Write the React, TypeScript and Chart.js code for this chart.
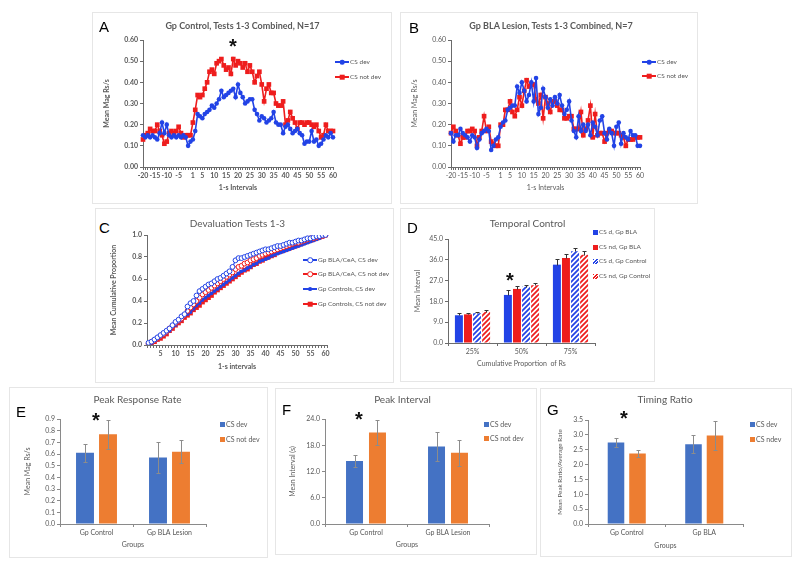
import React, { useEffect, useRef } from 'react';
import { Chart, registerables } from 'chart.js';

Chart.register(...registerables);

const FONT = 'Lato, "Liberation Sans", sans-serif';
const SERIF_LET = '"Liberation Sans", Arial, sans-serif';
const GREY = '#595959';
const AXC = '#6b6b6b';
const AXC2 = '#8a8a8a';
const BLUE = '#2243e6';
const RED = '#ee1d1d';
const EBLUE = '#4472C4';
const EORANGE = '#ED7D31';

Chart.defaults.font.family = FONT;
Chart.defaults.color = GREY;

// ---------- Panel A / B : 1-s intervals ----------
const abCategories = Array.from({ length: 81 }, (_, i) => String(i - 20));
const abTickLabels = ['-20', '-15', '-10', '-5', '1', '5', '10', '15', '20', '25', '30', '35', '40', '45', '50', '55', '60'];

const aCsDev = [
  0.15, 0.14, 0.15, 0.14, 0.15, 0.14, 0.13, 0.16, 0.21, 0.16,
  0.20, 0.15, 0.14, 0.15, 0.14, 0.15, 0.14, 0.15, 0.14, 0.10,
  0.12, 0.13, 0.17, 0.25, 0.24, 0.23, 0.25, 0.26, 0.27, 0.29,
  0.28, 0.30, 0.32, 0.36, 0.33, 0.34, 0.35, 0.36, 0.37, 0.33,
  0.39, 0.35, 0.33, 0.30, 0.31, 0.32, 0.32, 0.27, 0.25, 0.22,
  0.24, 0.23, 0.21, 0.22, 0.23, 0.26, 0.21, 0.20, 0.20, 0.16,
  0.19, 0.20, 0.18, 0.16, 0.17, 0.18, 0.16, 0.15, 0.11, 0.12,
  0.12, 0.17, 0.12, 0.13, 0.10, 0.11, 0.13, 0.15, 0.14, 0.16,
  0.14,
];
const aCsNotDev = [
  0.13, 0.15, 0.16, 0.18, 0.17, 0.17, 0.20, 0.17, 0.15, 0.11,
  0.12, 0.16, 0.17, 0.16, 0.17, 0.19, 0.16, 0.14, 0.15, 0.15,
  0.15, 0.21, 0.27, 0.34, 0.33, 0.34, 0.37, 0.40, 0.45, 0.46,
  0.44, 0.49, 0.50, 0.51, 0.48, 0.46, 0.47, 0.44, 0.51, 0.48,
  0.50, 0.49, 0.47, 0.49, 0.45, 0.48, 0.45, 0.40, 0.43, 0.45,
  0.39, 0.31, 0.37, 0.39, 0.35, 0.35, 0.30, 0.29, 0.29, 0.31,
  0.20, 0.22, 0.26, 0.23, 0.21, 0.18, 0.21, 0.21, 0.20, 0.21,
  0.21, 0.20, 0.19, 0.20, 0.17, 0.14, 0.15, 0.20, 0.17, 0.17,
  0.17,
];
const bCsDev = [
  0.16, 0.12, 0.15, 0.15, 0.18, 0.16, 0.15, 0.14, 0.12, 0.15,
  0.14, 0.09, 0.13, 0.16, 0.17, 0.18, 0.17, 0.08, 0.10, 0.13,
  0.14, 0.19, 0.21, 0.22, 0.27, 0.28, 0.29, 0.29, 0.38, 0.35,
  0.40, 0.36, 0.31, 0.34, 0.40, 0.31, 0.42, 0.25, 0.28, 0.37,
  0.33, 0.28, 0.32, 0.29, 0.33, 0.30, 0.34, 0.29, 0.25, 0.27,
  0.31, 0.22, 0.17, 0.14, 0.24, 0.17, 0.20, 0.17, 0.20, 0.15,
  0.21, 0.19, 0.15, 0.22, 0.24, 0.16, 0.13, 0.18, 0.16, 0.10,
  0.19, 0.21, 0.11, 0.16, 0.14, 0.13, 0.17, 0.15, 0.15, 0.10,
  0.10,
];
const bCsNotDev = [
  0.16, 0.19, 0.17, 0.15, 0.11, 0.14, 0.14, 0.17, 0.17, 0.18,
  0.17, 0.10, 0.14, 0.17, 0.24, 0.17, 0.19, 0.12, 0.11, 0.10,
  0.10, 0.20, 0.20, 0.27, 0.27, 0.31, 0.26, 0.24, 0.27, 0.33,
  0.29, 0.36, 0.41, 0.38, 0.39, 0.39, 0.32, 0.30, 0.34, 0.23,
  0.33, 0.30, 0.26, 0.31, 0.31, 0.29, 0.27, 0.27, 0.23, 0.23,
  0.24, 0.24, 0.18, 0.18, 0.18, 0.26, 0.15, 0.18, 0.22, 0.29,
  0.14, 0.25, 0.15, 0.16, 0.16, 0.12, 0.16, 0.17, 0.17, 0.16,
  0.16, 0.16, 0.15, 0.14, 0.10, 0.13, 0.13, 0.13, 0.14, 0.14,
  0.14,
];

// ---------- Panel C : cumulative proportion ----------
const cCategories = Array.from({ length: 60 }, (_, i) => String(i + 1));
const cTickLabels = ['5', '10', '15', '20', '25', '30', '35', '40', '45', '50', '55', '60'];
const cBlaDev = [
  0.02, 0.03, 0.05, 0.07, 0.09, 0.11, 0.13, 0.15, 0.18, 0.21,
  0.23, 0.26, 0.28, 0.35, 0.38, 0.40, 0.45, 0.49, 0.51, 0.53,
  0.55, 0.56, 0.58, 0.60, 0.61, 0.63, 0.65, 0.67, 0.71, 0.77,
  0.79, 0.79, 0.80, 0.81, 0.82, 0.83, 0.84, 0.85, 0.86, 0.87,
  0.87, 0.88, 0.89, 0.90, 0.90, 0.91, 0.92, 0.93, 0.93, 0.94,
  0.95, 0.95, 0.96, 0.97, 0.97, 0.98, 0.99, 0.99, 1.0, 1.0,
];
const cBlaNotDev = [
  0.01, 0.03, 0.04, 0.06, 0.08, 0.10, 0.12, 0.15, 0.17, 0.20,
  0.22, 0.24, 0.27, 0.31, 0.34, 0.37, 0.40, 0.43, 0.46, 0.48,
  0.50, 0.52, 0.54, 0.56, 0.58, 0.60, 0.62, 0.64, 0.66, 0.69,
  0.71, 0.72, 0.74, 0.75, 0.77, 0.78, 0.79, 0.81, 0.82, 0.83,
  0.84, 0.85, 0.86, 0.87, 0.88, 0.89, 0.90, 0.91, 0.92, 0.93,
  0.93, 0.94, 0.95, 0.96, 0.97, 0.97, 0.98, 0.99, 0.99, 1.0,
];
const cCtlDev = [
  0.01, 0.02, 0.04, 0.05, 0.07, 0.09, 0.11, 0.13, 0.16, 0.18,
  0.21, 0.23, 0.26, 0.28, 0.30, 0.33, 0.36, 0.38, 0.41, 0.43,
  0.45, 0.47, 0.49, 0.51, 0.53, 0.55, 0.57, 0.59, 0.61, 0.63,
  0.65, 0.67, 0.68, 0.70, 0.71, 0.73, 0.74, 0.76, 0.77, 0.78,
  0.79, 0.81, 0.82, 0.83, 0.84, 0.85, 0.86, 0.87, 0.88, 0.89,
  0.90, 0.91, 0.92, 0.93, 0.94, 0.95, 0.96, 0.97, 0.98, 1.0,
];
const cCtlNotDev = [
  0.01, 0.02, 0.03, 0.05, 0.06, 0.08, 0.10, 0.13, 0.15, 0.18,
  0.20, 0.22, 0.25, 0.27, 0.29, 0.32, 0.34, 0.36, 0.39, 0.41,
  0.43, 0.45, 0.48, 0.50, 0.52, 0.54, 0.56, 0.58, 0.60, 0.62,
  0.64, 0.66, 0.68, 0.69, 0.71, 0.73, 0.74, 0.76, 0.77, 0.79,
  0.80, 0.81, 0.82, 0.84, 0.85, 0.86, 0.87, 0.88, 0.89, 0.90,
  0.91, 0.92, 0.93, 0.94, 0.95, 0.96, 0.97, 0.98, 0.99, 1.0,
];

// ---------- Panel D : temporal control ----------
const dCategories = ['25%', '50%', '75%'];
const dBlaDev = [12.0, 20.8, 33.9];
const dBlaDevErr = [1.1, 2.3, 2.5];
const dBlaNotDev = [12.4, 23.4, 36.8];
const dBlaNotDevErr = [0.6, 1.2, 1.9];
const dCtlDev = [12.9, 24.4, 39.7];
const dCtlDevErr = [0.5, 0.7, 1.2];
const dCtlNotDev = [13.5, 25.0, 38.2];
const dCtlNotDevErr = [0.9, 0.8, 1.4];

// ---------- Panels E / F / G ----------
const eGroups = ['Gp Control', 'Gp BLA Lesion'];
const eDev = [0.61, 0.57];
const eDevErr = [0.075, 0.135];
const eNotDev = [0.77, 0.62];
const eNotDevErr = [0.125, 0.1];

const fGroups = ['Gp Control', 'Gp BLA Lesion'];
const fDev = [14.4, 17.7];
const fDevErr = [1.3, 3.3];
const fNotDev = [20.9, 16.3];
const fNotDevErr = [2.9, 3.0];

const gGroups = ['Gp Control', 'Gp BLA'];
const gDev = [2.74, 2.68];
const gDevErr = [0.15, 0.3];
const gNotDev = [2.37, 2.98];
const gNotDevErr = [0.12, 0.5];

// ---------- helpers ----------
const errorBars = {
  id: 'errorBars',
  afterDatasetsDraw(chart: any) {
    const ctx = chart.ctx;
    const ys = chart.scales.y;
    chart.data.datasets.forEach((ds: any, i: number) => {
      if (!ds.errors) return;
      const meta = chart.getDatasetMeta(i);
      meta.data.forEach((el: any, j: number) => {
        const v = ds.data[j];
        const e = ds.errors[j];
        const x = Math.round(el.x) + 0.5;
        const t = Math.round(ys.getPixelForValue(v + e)) + 0.5;
        const b = Math.round(ys.getPixelForValue(ds.errPlusOnly ? v : v - e)) + 0.5;
        ctx.save();
        ctx.strokeStyle = ds.errColor;
        ctx.lineWidth = 1;
        ctx.beginPath();
        ctx.moveTo(x, t);
        ctx.lineTo(x, b);
        ctx.moveTo(x - ds.errCap, t);
        ctx.lineTo(x + ds.errCap, t);
        if (!ds.errPlusOnly) {
          ctx.moveTo(x - ds.errCap, b);
          ctx.lineTo(x + ds.errCap, b);
        }
        ctx.stroke();
        ctx.restore();
      });
    });
  },
};

function hatch(color: string) {
  const s = 5;
  const c = document.createElement('canvas');
  c.width = s;
  c.height = s;
  const g = c.getContext('2d')!;
  g.fillStyle = '#ffffff';
  g.fillRect(0, 0, s, s);
  g.strokeStyle = color;
  g.lineWidth = 1.8;
  g.beginPath();
  g.moveTo(0, s);
  g.lineTo(s, 0);
  g.moveTo(-1, 1);
  g.lineTo(1, -1);
  g.moveTo(s - 1, s + 1);
  g.lineTo(s + 1, s - 1);
  g.stroke();
  return g.createPattern(c, 'repeat');
}

const fnt = (size: number, bold: boolean) => ({ family: FONT, size, weight: bold ? 'bold' : 'normal' });

function catAxis(cats: string[], shown: string[] | null, offset: boolean, title: string, bold: boolean, color: string, size = 7, titleSize = 7) {
  return {
    type: 'category',
    offset,
    ticks: {
      autoSkip: false,
      maxRotation: 0,
      minRotation: 0,
      padding: 2,
      color: GREY,
      font: fnt(size, bold),
      callback: (_v: any, i: number) => (shown === null || shown.includes(cats[i]) ? cats[i] : ''),
    },
    grid: { display: true, drawOnChartArea: false, drawTicks: true, tickLength: 3, color, lineWidth: 1, offset },
    border: { display: true, color, width: 1 },
    title: { display: true, text: title, color: GREY, padding: 0, font: fnt(titleSize, bold) },
  };
}

function valAxis(min: number, max: number, step: number, dec: number, title: string, bold: boolean, color: string, size = 7, titleSize = 7) {
  return {
    type: 'linear',
    min,
    max,
    ticks: {
      stepSize: step,
      padding: 2,
      color: GREY,
      font: fnt(size, bold),
      callback: (v: any) => Number(v).toFixed(dec),
    },
    grid: { display: true, drawOnChartArea: false, drawTicks: true, tickLength: 3, color, lineWidth: 1 },
    border: { display: true, color, width: 1 },
    title: { display: true, text: title, color: GREY, padding: 0, font: fnt(titleSize, bold) },
  };
}

const noPlugins = { legend: { display: false }, tooltip: { enabled: false }, title: { display: false } };

type Box = { cl: number; ct: number; cr: number; cb: number; al: number; at: number; ar: number; ab: number };

function ChartBox({ box, build }: { box: Box; build: () => any }) {
  const ref = useRef<HTMLCanvasElement>(null);
  useEffect(() => {
    const cfg = build();
    cfg.options.responsive = false;
    cfg.options.maintainAspectRatio = false;
    cfg.options.animation = false;
    cfg.options.devicePixelRatio = 1;
    cfg.options.layout = { padding: { left: 0, top: box.at - box.ct, right: box.cr - box.ar, bottom: 0 } };
    cfg.options.scales.x.afterFit = (s: any) => {
      s.height = box.cb - box.ab;
    };
    cfg.options.scales.y.afterFit = (s: any) => {
      s.width = box.al - box.cl;
    };
    const chart = new Chart(ref.current!, cfg);
    return () => chart.destroy();
  }, []);
  const w = box.cr - box.cl;
  const h = box.cb - box.ct;
  return (
    <canvas
      ref={ref}
      width={w}
      height={h}
      style={{ position: 'absolute', left: box.cl, top: box.ct, width: w, height: h }}
    />
  );
}

// ---------- chart builders ----------
function buildLine(dev: number[], notDev: number[], bold: boolean) {
  return () => ({
    type: 'line',
    data: {
      labels: abCategories,
      datasets: [
        {
          label: 'CS dev', data: dev, borderColor: BLUE, backgroundColor: BLUE, borderWidth: 1.6,
          pointStyle: 'circle', pointRadius: 2.3, pointBorderWidth: 0, pointBackgroundColor: BLUE, tension: 0,
        },
        {
          label: 'CS not dev', data: notDev, borderColor: RED, backgroundColor: RED, borderWidth: 1.6,
          pointStyle: 'rect', pointRadius: 3.3, pointBorderWidth: 0, pointBackgroundColor: RED, tension: 0,
        },
      ],
    },
    options: {
      plugins: noPlugins,
      scales: {
        x: catAxis(abCategories, abTickLabels, false, '1-s Intervals', bold, AXC),
        y: valAxis(0, 0.6, 0.1, 2, 'Mean Mag Rs/s', bold, AXC),
      },
    },
  });
}

function buildC() {
  return {
    type: 'line',
    data: {
      labels: cCategories,
      datasets: [
        {
          label: 'Gp BLA/CeA, CS dev', data: cBlaDev, borderColor: BLUE, borderWidth: 1.2,
          pointStyle: 'circle', pointRadius: 2.4, pointBorderWidth: 1, pointBorderColor: BLUE, pointBackgroundColor: '#ffffff', tension: 0,
        },
        {
          label: 'Gp BLA/CeA, CS not dev', data: cBlaNotDev, borderColor: RED, borderWidth: 1.2,
          pointStyle: 'circle', pointRadius: 2.4, pointBorderWidth: 1, pointBorderColor: RED, pointBackgroundColor: '#ffffff', tension: 0,
        },
        {
          label: 'Gp Controls, CS dev', data: cCtlDev, borderColor: BLUE, borderWidth: 1.6,
          pointStyle: 'circle', pointRadius: 1.9, pointBorderWidth: 0, pointBackgroundColor: BLUE, tension: 0,
        },
        {
          label: 'Gp Controls, CS not dev', data: cCtlNotDev, borderColor: RED, borderWidth: 1.6,
          pointStyle: 'rect', pointRadius: 3.3, pointBorderWidth: 0, pointBackgroundColor: RED, tension: 0,
        },
      ],
    },
    options: {
      plugins: noPlugins,
      scales: {
        x: catAxis(cCategories, cTickLabels, true, '1-s intervals', true, AXC),
        y: valAxis(0, 1, 0.2, 1, 'Mean Cumulative Proportion', true, AXC),
      },
    },
  };
}

function buildD() {
  const mk = (label: string, data: number[], errs: number[], bg: any) => ({
    label, data, errors: errs, errColor: '#333333', errCap: 2, errPlusOnly: true,
    backgroundColor: bg, borderWidth: 0, categoryPercentage: 0.74, barPercentage: 0.88,
  });
  return {
    type: 'bar',
    data: {
      labels: dCategories,
      datasets: [
        mk('CS d, Gp BLA', dBlaDev, dBlaDevErr, BLUE),
        mk('CS nd, Gp BLA', dBlaNotDev, dBlaNotDevErr, RED),
        mk('CS d, Gp Control', dCtlDev, dCtlDevErr, hatch(BLUE)),
        mk('CS nd, Gp Control', dCtlNotDev, dCtlNotDevErr, hatch(RED)),
      ],
    },
    options: {
      plugins: noPlugins,
      scales: {
        x: catAxis(dCategories, null, true, 'Cumulative Proportion  of Rs', false, AXC),
        y: valAxis(0, 45, 9, 1, 'Mean Interval', false, AXC),
      },
    },
    plugins: [errorBars],
  };
}

function buildBars(
  groups: string[], dev: number[], devErr: number[], nd: number[], ndErr: number[],
  max: number, step: number, dec: number, yTitle: string, catPct: number, barPct: number, yTitleSize: number,
) {
  return () => {
    const mk = (label: string, data: number[], errs: number[], bg: string) => ({
      label, data, errors: errs, errColor: '#8c8c8c', errCap: 2, errPlusOnly: false,
      backgroundColor: bg, borderWidth: 0, categoryPercentage: catPct, barPercentage: barPct,
    });
    return {
      type: 'bar',
      data: {
        labels: groups,
        datasets: [mk('CS dev', dev, devErr, EBLUE), mk('CS not dev', nd, ndErr, EORANGE)],
      },
      options: {
        plugins: noPlugins,
        scales: {
          x: catAxis(groups, null, true, 'Groups', false, AXC2),
          y: valAxis(0, max, step, dec, yTitle, false, AXC2, 7, yTitleSize),
        },
      },
      plugins: [errorBars],
    };
  };
}

// ---------- layout ----------
const boxA: Box = { cl: 103, ct: 30, cr: 342, cb: 192, al: 143, at: 40, ar: 333, ab: 167 };
const boxB: Box = { cl: 411, ct: 30, cr: 650, cb: 192, al: 451, at: 40, ar: 640, ab: 167 };
const boxC: Box = { cl: 110, ct: 225, cr: 332, cb: 371, al: 147, at: 235, ar: 327, ab: 345 };
const boxD: Box = { cl: 414, ct: 229, cr: 600, cb: 368, al: 448, at: 239, ar: 595, ab: 343 };
const boxE: Box = { cl: 24, ct: 409, cr: 212, cb: 549, al: 60, at: 419, ar: 206, ab: 524 };
const boxF: Box = { cl: 289, ct: 409, cr: 495, cb: 549, al: 325, at: 419, ar: 489, ab: 524 };
const boxG: Box = { cl: 556, ct: 410, cr: 748, cb: 550, al: 588, at: 420, ar: 743, ab: 524 };

const frames = [
  [92, 12, 300, 192],
  [400, 12, 298, 192],
  [95, 208, 299, 175],
  [400, 208, 255, 174],
  [9, 387, 259, 171],
  [275, 388, 262, 167],
  [540, 388, 252, 169],
];

function Txt({ x, y, text, size, bold, color = GREY, family = FONT }: any) {
  return (
    <div
      style={{
        position: 'absolute', left: x, top: y, transform: 'translate(-50%, -50%)', fontFamily: family,
        fontSize: size, fontWeight: bold ? 'bold' : 'normal', color, lineHeight: 1, whiteSpace: 'nowrap',
      }}
    >
      {text}
    </div>
  );
}

function Letter({ x, cy, text }: any) {
  return (
    <div
      style={{
        position: 'absolute', left: x - 1, top: cy - 7.3, fontFamily: SERIF_LET, fontSize: 15,
        lineHeight: '15px', color: '#000', whiteSpace: 'nowrap',
      }}
    >
      {text}
    </div>
  );
}

function Star({ cx, cy }: any) {
  return (
    <div
      style={{
        position: 'absolute', left: cx, top: cy - 5.5, transform: 'translateX(-50%)', fontFamily: SERIF_LET,
        fontSize: 20, fontWeight: 'bold', lineHeight: '20px', color: '#111',
      }}
    >
      *
    </div>
  );
}

function LineLeg({ x, y, color, marker, text }: any) {
  let mk: any;
  if (marker === 'circle') mk = { width: 4.6, height: 4.6, borderRadius: '50%', background: color };
  else if (marker === 'small') mk = { width: 3.8, height: 3.8, borderRadius: '50%', background: color };
  else if (marker === 'rect') mk = { width: 4.6, height: 4.6, background: color };
  else mk = { width: 3.6, height: 3.6, borderRadius: '50%', background: '#fff', border: `1px solid ${color}` };
  return (
    <>
      <div style={{ position: 'absolute', left: x, top: y - 0.75, width: 14, height: 1.5, background: color }} />
      <div style={{ position: 'absolute', left: x + 7, top: y, transform: 'translate(-50%, -50%)', ...mk }} />
      <div
        style={{
          position: 'absolute', left: x + 15, top: y, transform: 'translateY(-50%)', fontFamily: FONT,
          fontSize: 6.5, color: GREY, lineHeight: 1, whiteSpace: 'nowrap',
        }}
      >
        {text}
      </div>
    </>
  );
}

function SqLeg({ x, y, color, hatched, text, size = 6.5 }: any) {
  const bg = hatched
    ? `repeating-linear-gradient(135deg, ${color} 0px, ${color} 1.2px, #fff 1.2px, #fff 2.4px)`
    : color;
  return (
    <>
      <div style={{ position: 'absolute', left: x, top: y - 2.5, width: 5, height: 5, background: bg }} />
      <div
        style={{
          position: 'absolute', left: x + 6, top: y, transform: 'translateY(-50%)', fontFamily: FONT,
          fontSize: size, color: GREY, lineHeight: 1, whiteSpace: 'nowrap',
        }}
      >
        {text}
      </div>
    </>
  );
}

const buildA = buildLine(aCsDev, aCsNotDev, true);
const buildB = buildLine(bCsDev, bCsNotDev, false);
const buildE = buildBars(eGroups, eDev, eDevErr, eNotDev, eNotDevErr, 0.9, 0.1, 1, 'Mean Mag Rs/s', 0.63, 0.78, 7);
const buildF = buildBars(fGroups, fDev, fDevErr, fNotDev, fNotDevErr, 24, 6, 1, 'Mean Interval (s)', 0.56, 0.74, 7);
const buildG = buildBars(gGroups, gDev, gDevErr, gNotDev, gNotDevErr, 3.5, 0.5, 1, 'Mean Peak Ratio/Average Rate', 0.555, 0.77, 6.3);

export default function App() {
  return (
    <div style={{ position: 'absolute', left: 0, top: 0, width: 800, height: 570, background: '#fff', overflow: 'hidden' }}>
      {frames.map((f, i) => (
        <div
          key={i}
          style={{ position: 'absolute', left: f[0], top: f[1], width: f[2], height: f[3], border: '1px solid #e6e6e6', boxSizing: 'border-box' }}
        />
      ))}

      <ChartBox box={boxA} build={buildA} />
      <ChartBox box={boxB} build={buildB} />
      <ChartBox box={boxC} build={buildC} />
      <ChartBox box={boxD} build={buildD} />
      <ChartBox box={boxE} build={buildE} />
      <ChartBox box={boxF} build={buildF} />
      <ChartBox box={boxG} build={buildG} />

      <Letter x={100} cy={26.5} text="A" />
      <Letter x={410} cy={27} text="B" />
      <Letter x={100} cy={227.5} text="C" />
      <Letter x={408} cy={227} text="D" />
      <Letter x={17} cy={411} text="E" />
      <Letter x={283} cy={409} text="F" />
      <Letter x={548} cy={409.5} text="G" />

      <Txt x={242.5} y={25} text="Gp Control, Tests 1-3 Combined, N=17" size={9} bold />
      <Txt x={551} y={25} text="Gp BLA Lesion, Tests 1-3 Combined, N=7" size={9} bold />
      <Txt x={237.5} y={223} text="Devaluation Tests 1-3" size={10} />
      <Txt x={527.5} y={223} text="Temporal Control" size={10} />
      <Txt x={137.5} y={399} text="Peak Response Rate" size={10} />
      <Txt x={402.5} y={399} text="Peak Interval" size={10} />
      <Txt x={665} y={399} text="Timing Ratio" size={10} />

      <Star cx={233} cy={41} />
      <Star cx={510} cy={275} />
      <Star cx={96} cy={415} />
      <Star cx={359} cy={414} />
      <Star cx={624} cy={413} />

      <LineLeg x={335} y={62} color={BLUE} marker="circle" text="CS dev" />
      <LineLeg x={335} y={77} color={RED} marker="rect" text="CS not dev" />
      <LineLeg x={642} y={62} color={BLUE} marker="circle" text="CS dev" />
      <LineLeg x={642} y={76} color={RED} marker="rect" text="CS not dev" />

      <LineLeg x={303} y={260} color={BLUE} marker="open" text="Gp BLA/CeA, CS dev" />
      <LineLeg x={303} y={274} color={RED} marker="open" text="Gp BLA/CeA, CS not dev" />
      <LineLeg x={303} y={289} color={BLUE} marker="small" text="Gp Controls, CS dev" />
      <LineLeg x={303} y={304} color={RED} marker="rect" text="Gp Controls, CS not dev" />

      <SqLeg x={593} y={232} color={BLUE} text="CS d, Gp BLA" />
      <SqLeg x={593} y={247} color={RED} text="CS nd, Gp BLA" />
      <SqLeg x={593} y={261} color={BLUE} hatched text="CS d, Gp Control" />
      <SqLeg x={593} y={276} color={RED} hatched text="CS nd, Gp Control" />

      <SqLeg x={220} y={424} color={EBLUE} text="CS dev" size={7} />
      <SqLeg x={220} y={439} color={EORANGE} text="CS not dev" size={7} />
      <SqLeg x={484} y={424} color={EBLUE} text="CS dev" size={7} />
      <SqLeg x={484} y={438} color={EORANGE} text="CS not dev" size={7} />
      <SqLeg x={750} y={424} color={EBLUE} text="CS dev" size={7} />
      <SqLeg x={750} y={439} color={EORANGE} text="CS ndev" size={7} />
    </div>
  );
}
